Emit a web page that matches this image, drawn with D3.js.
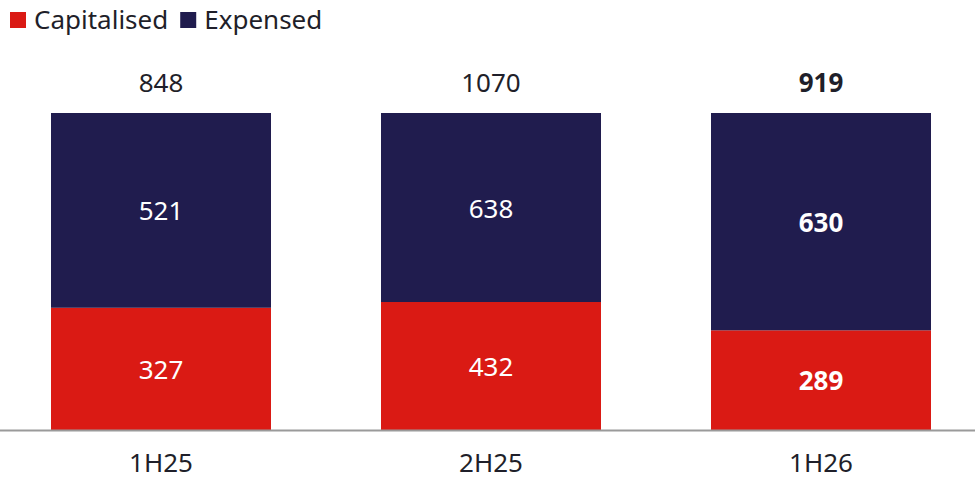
<!DOCTYPE html>
<html><head><meta charset="utf-8">
<script src="https://cdn.jsdelivr.net/npm/d3@7"></script>
<style>body{margin:0;background:#fff}svg{display:block;font-family:"Noto Sans",Lato,sans-serif}</style>
</head><body><svg id="c" width="975" height="479"></svg>
<script>
const categories = ["1H25","2H25","1H26"];
const capitalised = [327,432,289];
const expensed = [521,638,630];
const totals = [848,1070,919];
const boldFlags = [false,false,true];
const seriesNames = ["Capitalised","Expensed"];
const colors = {Capitalised:"#DA1A14", Expensed:"#201C4E"};

const svg = d3.select("#c");
const W=975, H=479, FS=26;
const x = d3.scaleBand().domain(categories).range([-4,986]).paddingInner(1/3).paddingOuter(1/6);
const y = d3.scaleLinear().domain([0,1]).range([430,113]);

const rows = categories.map((c,i)=>({cat:c, Capitalised:capitalised[i]/totals[i], Expensed:expensed[i]/totals[i], raw:{Capitalised:capitalised[i],Expensed:expensed[i]}, total:totals[i], bold:boldFlags[i]}));
const stack = d3.stack().keys(seriesNames)(rows);

const g = svg.append("g");
stack.forEach(s=>{
  g.selectAll(null).data(s).enter().append("rect")
    .attr("x",d=>x(d.data.cat)).attr("width",x.bandwidth())
    .attr("y",d=>y(d[1])).attr("height",d=>y(d[0])-y(d[1]))
    .attr("fill",colors[s.key]);
  g.selectAll(null).data(s).enter().append("text")
    .attr("x",d=>x(d.data.cat)+x.bandwidth()/2)
    .attr("y",d=>(y(d[0])+y(d[1]))/2)
    .attr("text-anchor","middle").attr("dominant-baseline","central")
    .attr("fill","#fff").attr("font-size",FS)
    .attr("font-weight",d=>d.data.bold?"bold":"normal")
    .text(d=>d.data.raw[s.key]);
});
// totals
g.selectAll(null).data(rows).enter().append("text")
  .attr("x",d=>x(d.cat)+x.bandwidth()/2).attr("y",y(1)-31)
  .attr("text-anchor","middle").attr("dominant-baseline","central")
  .attr("fill","#1f1f2a").attr("font-size",FS)
  .attr("font-weight",d=>d.bold?"bold":"normal")
  .text(d=>d.total);

// axis
const ax = svg.append("g").attr("transform","translate(0,430)")
  .call(d3.axisBottom(x).tickSize(0).tickPadding(24));
ax.select(".domain").remove();
svg.append("line").attr("x1",0).attr("x2",W).attr("y1",430.5).attr("y2",430.5).attr("stroke","#9a9a9a").attr("stroke-width",2);
ax.selectAll("text").attr("font-size",FS).attr("fill","#1f1f2a").attr("font-family","Noto Sans, Lato, sans-serif");

// legend
const leg = svg.append("g");
let lx = 10;
seriesNames.forEach(n=>{
  leg.append("rect").attr("x",lx).attr("y",12).attr("width",16).attr("height",16).attr("fill",colors[n]);
  const t = leg.append("text").attr("x",lx+24).attr("y",19).attr("dominant-baseline","central")
    .attr("font-size",FS).attr("fill","#1f1f2a").text(n);
  lx += 24 + t.node().getComputedTextLength() + 12;
});
</script></body></html>
